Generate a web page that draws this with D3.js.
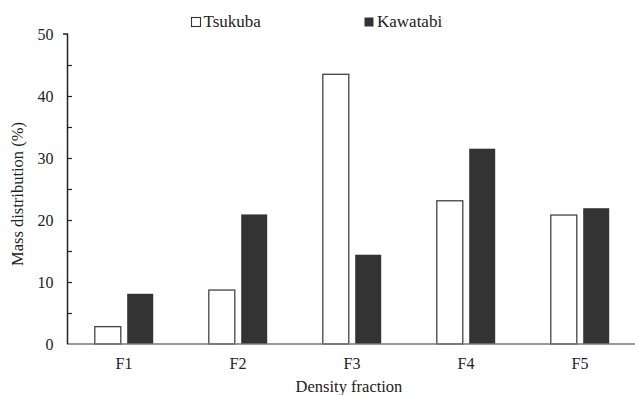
<!DOCTYPE html>
<html>
<head>
<meta charset="utf-8">
<script src="https://cdn.jsdelivr.net/npm/d3@7"></script>
<style>
  html, body { margin: 0; padding: 0; background: #fff; }
  svg { display: block; }
</style>
</head>
<body>
<svg id="chart" width="635" height="395"></svg>
<script>
// Mass distribution of density fractions for two sites
const fractions = ["F1", "F2", "F3", "F4", "F5"];
const tsukuba = [2.8, 8.7, 43.5, 23.1, 20.8];
const kawatabi = [8.1, 20.9, 14.4, 31.5, 21.9];
const seriesNames = ["Tsukuba", "Kawatabi"];
const yTicks = [0, 10, 20, 30, 40, 50];

const FONT = '"Liberation Serif"';
const svg = d3.select("#chart").style("font-family", FONT);

const x = d3.scaleBand().domain(fractions).range([67, 637]).paddingInner(0).paddingOuter(0);
const y = d3.scaleLinear().domain([0, 50]).range([344, 34]);

const barW = 26, gap = 3.2;

// Tsukuba: open bars
svg.append("g").selectAll("rect")
  .data(fractions.map((f, i) => ({ f, v: tsukuba[i] })))
  .join("rect")
  .attr("x", d => x(d.f) + x.bandwidth() / 2 - gap - barW)
  .attr("y", d => y(d.v))
  .attr("width", barW)
  .attr("height", d => y(0) - y(d.v))
  .attr("fill", "#fff")
  .attr("stroke", "#444")
  .attr("stroke-width", 1.3);

// Kawatabi: filled bars
svg.append("g").selectAll("rect")
  .data(fractions.map((f, i) => ({ f, v: kawatabi[i] })))
  .join("rect")
  .attr("x", d => x(d.f) + x.bandwidth() / 2 + gap)
  .attr("y", d => y(d.v))
  .attr("width", barW)
  .attr("height", d => y(0) - y(d.v))
  .attr("fill", "#333");

// X axis baseline and category labels
const xAxis = svg.append("g")
  .attr("transform", `translate(0,${y(0)})`)
  .call(d3.axisBottom(x).tickSize(0).tickPadding(14));
xAxis.attr("font-family", null);
xAxis.select(".domain").attr("stroke", "#777").attr("stroke-width", 1.5).attr("d", `M67,0H635`);
xAxis.selectAll("text")
  .style("font-family", FONT).style("font-size", "16px").attr("fill", "#222");

// Y axis with inward ticks every 5, labels every 10
const yAxis = svg.append("g")
  .attr("transform", `translate(67.5,0)`)
  .call(d3.axisLeft(y).tickValues(d3.range(0, 51, 5)).tickSize(-4.5).tickPadding(14)
    .tickFormat(d => yTicks.includes(d) ? d : ""));
yAxis.attr("font-family", null);
yAxis.select(".domain").attr("stroke", "#222").attr("stroke-width", 1.5)
  .attr("d", `M-4.5,${y(50)}H0V${y(0)}`);
yAxis.selectAll(".tick line").attr("stroke", "#222").attr("stroke-width", 1.2);
yAxis.selectAll(".tick").filter(d => d === 0 || d === 50).select("line").remove();
yAxis.selectAll("text")
  .style("font-family", FONT).style("font-size", "16px").attr("fill", "#222");

// Axis titles
svg.append("text")
  .attr("x", 349).attr("y", 391.5)
  .attr("text-anchor", "middle")
  .style("font-family", FONT).style("font-size", "16.5px").attr("fill", "#222")
  .text("Density fraction");

svg.append("text")
  .attr("transform", "translate(23,194) rotate(-90)")
  .attr("text-anchor", "middle")
  .style("font-family", FONT).style("font-size", "16.5px").attr("fill", "#222")
  .text("Mass distribution (%)");

// Legend
const legendX = [191, 364.5];
const legend = svg.append("g").selectAll("g")
  .data(seriesNames)
  .join("g")
  .attr("transform", (d, i) => `translate(${legendX[i]},17.5)`);
legend.append("rect")
  .attr("width", 9).attr("height", 9)
  .attr("fill", (d, i) => i === 0 ? "#fff" : "#333")
  .attr("stroke", (d, i) => i === 0 ? "#333" : "none")
  .attr("stroke-width", 1.1)
  .attr("x", (d, i) => i === 0 ? 0.5 : 0);
legend.append("text")
  .attr("x", 12.5).attr("y", 9.5)
  .style("font-family", FONT).style("font-size", "17px").attr("fill", "#222")
  .text(d => d);
</script>
</body>
</html>
